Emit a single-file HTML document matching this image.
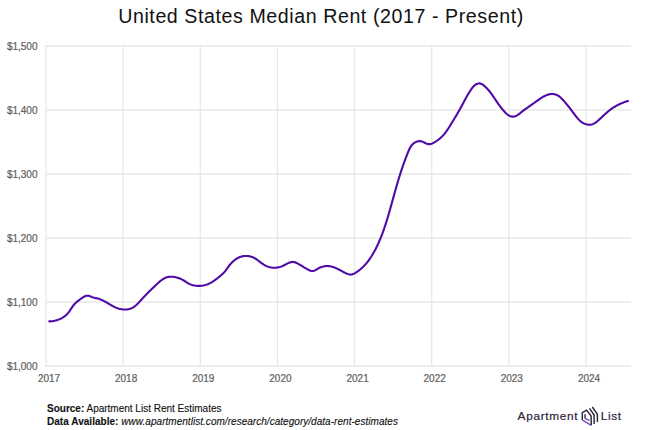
<!DOCTYPE html>
<html><head><meta charset="utf-8"><style>
html,body{margin:0;padding:0;background:#fff;width:650px;height:430px;overflow:hidden}
svg{position:absolute;left:0;top:0;display:block}
.t{font-family:"Liberation Sans",sans-serif}
</style></head><body>
<svg width="650" height="430" viewBox="0 0 650 430">
<rect width="650" height="430" fill="#fff"/>
<text class="t" x="321" y="22.7" text-anchor="middle" font-size="19.6" letter-spacing="0.58" fill="#111">United States Median Rent (2017 - Present)</text>
<g stroke="#e8e8e8" stroke-width="1.3" fill="none"><line x1="46.00" y1="45.3" x2="46.00" y2="366.7"/><line x1="123.14" y1="45.3" x2="123.14" y2="366.7"/><line x1="200.28" y1="45.3" x2="200.28" y2="366.7"/><line x1="277.42" y1="45.3" x2="277.42" y2="366.7"/><line x1="354.56" y1="45.3" x2="354.56" y2="366.7"/><line x1="431.70" y1="45.3" x2="431.70" y2="366.7"/><line x1="508.84" y1="45.3" x2="508.84" y2="366.7"/><line x1="585.98" y1="45.3" x2="585.98" y2="366.7"/><line x1="45.3" y1="46" x2="631" y2="46"/><line x1="45.3" y1="110" x2="631" y2="110"/><line x1="45.3" y1="174" x2="631" y2="174"/><line x1="45.3" y1="238" x2="631" y2="238"/><line x1="45.3" y1="302" x2="631" y2="302"/><line x1="45.3" y1="366" x2="631" y2="366"/></g>
<g class="t" font-size="10" fill="#5f5f5f" stroke="#5f5f5f" stroke-width="0.22"><text x="37.5" y="49.6" text-anchor="end">$1,500</text><text x="37.5" y="113.6" text-anchor="end">$1,400</text><text x="37.5" y="177.6" text-anchor="end">$1,300</text><text x="37.5" y="241.6" text-anchor="end">$1,200</text><text x="37.5" y="305.6" text-anchor="end">$1,100</text><text x="37.5" y="369.6" text-anchor="end">$1,000</text><text x="49.0" y="381.5" text-anchor="middle">2017</text><text x="126.1" y="381.5" text-anchor="middle">2018</text><text x="203.3" y="381.5" text-anchor="middle">2019</text><text x="280.4" y="381.5" text-anchor="middle">2020</text><text x="357.6" y="381.5" text-anchor="middle">2021</text><text x="434.7" y="381.5" text-anchor="middle">2022</text><text x="511.8" y="381.5" text-anchor="middle">2023</text><text x="589.0" y="381.5" text-anchor="middle">2024</text></g>
<path d="M49.31,321.36 L50.17,321.33 L51.03,321.28 L51.90,321.20 L52.76,321.09 L53.62,320.95 L54.48,320.78 L55.34,320.59 L56.18,320.37 L57.03,320.12 L57.86,319.85 L58.68,319.55 L59.50,319.22 L60.30,318.86 L61.08,318.48 L61.86,318.06 L62.61,317.63 L63.35,317.16 L64.07,316.67 L64.77,316.15 L65.45,315.60 L66.11,315.03 L66.75,314.43 L67.35,313.80 L67.94,313.15 L68.49,312.47 L69.03,311.77 L69.54,311.05 L70.04,310.32 L70.54,309.58 L71.02,308.84 L71.51,308.11 L72.00,307.37 L72.50,306.65 L73.00,305.94 L73.53,305.26 L74.07,304.59 L74.64,303.96 L75.23,303.35 L75.85,302.76 L76.48,302.19 L77.13,301.63 L77.80,301.09 L78.49,300.56 L79.19,300.03 L79.91,299.51 L80.65,298.98 L81.39,298.45 L82.15,297.92 L82.92,297.40 L83.70,296.92 L84.48,296.48 L85.27,296.12 L86.07,295.86 L86.87,295.71 L87.67,295.69 L88.48,295.81 L89.29,296.02 L90.10,296.30 L90.92,296.61 L91.75,296.90 L92.60,297.17 L93.45,297.43 L94.30,297.66 L95.16,297.89 L96.02,298.11 L96.88,298.34 L97.73,298.57 L98.57,298.82 L99.41,299.08 L100.23,299.37 L101.05,299.68 L101.85,300.02 L102.64,300.38 L103.42,300.75 L104.19,301.15 L104.96,301.56 L105.72,301.98 L106.48,302.41 L107.23,302.85 L107.99,303.29 L108.74,303.74 L109.49,304.18 L110.24,304.62 L110.99,305.06 L111.75,305.49 L112.51,305.92 L113.28,306.32 L114.06,306.72 L114.84,307.10 L115.63,307.46 L116.44,307.80 L117.25,308.11 L118.08,308.40 L118.92,308.66 L119.78,308.89 L120.65,309.09 L121.52,309.26 L122.40,309.39 L123.28,309.48 L124.17,309.54 L125.05,309.56 L125.93,309.54 L126.80,309.47 L127.66,309.37 L128.50,309.22 L129.34,309.02 L130.15,308.77 L130.95,308.48 L131.72,308.14 L132.47,307.76 L133.21,307.33 L133.93,306.86 L134.63,306.36 L135.31,305.83 L135.98,305.27 L136.64,304.68 L137.29,304.07 L137.92,303.45 L138.55,302.80 L139.17,302.15 L139.78,301.49 L140.39,300.82 L140.99,300.15 L141.59,299.48 L142.19,298.81 L142.79,298.15 L143.38,297.50 L143.98,296.86 L144.58,296.23 L145.18,295.60 L145.77,294.98 L146.37,294.37 L146.98,293.76 L147.58,293.15 L148.18,292.55 L148.79,291.95 L149.40,291.35 L150.01,290.76 L150.62,290.16 L151.24,289.56 L151.86,288.97 L152.48,288.37 L153.10,287.77 L153.73,287.16 L154.36,286.55 L155.00,285.94 L155.64,285.32 L156.29,284.70 L156.94,284.08 L157.59,283.46 L158.26,282.84 L158.93,282.24 L159.61,281.65 L160.30,281.07 L160.99,280.52 L161.70,279.99 L162.42,279.49 L163.16,279.02 L163.90,278.58 L164.66,278.18 L165.43,277.83 L166.22,277.52 L167.03,277.25 L167.85,277.04 L168.69,276.89 L169.54,276.78 L170.40,276.72 L171.27,276.71 L172.14,276.74 L173.02,276.82 L173.90,276.93 L174.78,277.07 L175.66,277.25 L176.53,277.46 L177.39,277.70 L178.23,277.96 L179.07,278.25 L179.89,278.56 L180.69,278.90 L181.49,279.26 L182.26,279.65 L183.02,280.07 L183.77,280.50 L184.50,280.97 L185.23,281.45 L185.95,281.93 L186.67,282.41 L187.41,282.86 L188.16,283.29 L188.93,283.69 L189.72,284.05 L190.53,284.38 L191.35,284.68 L192.18,284.95 L193.03,285.18 L193.89,285.38 L194.75,285.55 L195.62,285.68 L196.50,285.78 L197.38,285.85 L198.27,285.89 L199.15,285.90 L200.03,285.87 L200.92,285.82 L201.80,285.73 L202.67,285.61 L203.54,285.46 L204.39,285.28 L205.24,285.06 L206.08,284.82 L206.90,284.55 L207.72,284.24 L208.51,283.91 L209.30,283.54 L210.07,283.16 L210.83,282.75 L211.58,282.32 L212.32,281.86 L213.05,281.39 L213.78,280.91 L214.50,280.41 L215.21,279.89 L215.91,279.37 L216.62,278.83 L217.31,278.29 L218.01,277.75 L218.70,277.19 L219.39,276.64 L220.07,276.08 L220.75,275.52 L221.42,274.95 L222.08,274.36 L222.72,273.77 L223.34,273.16 L223.94,272.54 L224.52,271.91 L225.08,271.25 L225.62,270.58 L226.13,269.90 L226.64,269.21 L227.14,268.51 L227.64,267.81 L228.14,267.10 L228.65,266.40 L229.18,265.70 L229.72,265.01 L230.28,264.33 L230.86,263.66 L231.46,263.01 L232.08,262.37 L232.72,261.75 L233.38,261.15 L234.06,260.57 L234.76,260.02 L235.47,259.49 L236.20,258.99 L236.95,258.52 L237.71,258.09 L238.49,257.69 L239.29,257.33 L240.10,257.01 L240.93,256.73 L241.76,256.49 L242.61,256.29 L243.47,256.14 L244.33,256.02 L245.20,255.96 L246.07,255.93 L246.94,255.95 L247.80,256.01 L248.66,256.11 L249.52,256.26 L250.36,256.45 L251.19,256.68 L252.01,256.96 L252.81,257.28 L253.60,257.65 L254.37,258.05 L255.12,258.49 L255.87,258.95 L256.60,259.44 L257.32,259.95 L258.04,260.48 L258.76,261.01 L259.47,261.55 L260.18,262.09 L260.90,262.63 L261.61,263.16 L262.34,263.67 L263.07,264.16 L263.81,264.64 L264.56,265.08 L265.32,265.50 L266.09,265.88 L266.88,266.23 L267.68,266.54 L268.49,266.82 L269.31,267.07 L270.14,267.28 L270.98,267.45 L271.83,267.58 L272.70,267.67 L273.57,267.72 L274.45,267.74 L275.34,267.71 L276.22,267.64 L277.10,267.54 L277.98,267.39 L278.85,267.21 L279.71,267.00 L280.55,266.75 L281.37,266.47 L282.18,266.15 L282.96,265.80 L283.74,265.43 L284.51,265.05 L285.28,264.65 L286.06,264.24 L286.85,263.83 L287.66,263.42 L288.48,263.04 L289.31,262.68 L290.15,262.38 L291.00,262.14 L291.85,261.98 L292.69,261.92 L293.53,261.97 L294.37,262.13 L295.19,262.37 L296.01,262.70 L296.81,263.07 L297.60,263.48 L298.38,263.90 L299.15,264.33 L299.91,264.78 L300.66,265.23 L301.40,265.68 L302.14,266.14 L302.89,266.60 L303.63,267.06 L304.37,267.52 L305.12,267.97 L305.88,268.41 L306.65,268.85 L307.43,269.27 L308.22,269.69 L309.03,270.08 L309.85,270.45 L310.67,270.75 L311.50,270.96 L312.32,271.06 L313.13,271.01 L313.92,270.82 L314.70,270.52 L315.47,270.13 L316.23,269.70 L316.99,269.25 L317.75,268.79 L318.51,268.34 L319.28,267.92 L320.08,267.54 L320.89,267.19 L321.73,266.90 L322.58,266.65 L323.44,266.44 L324.31,266.28 L325.18,266.16 L326.06,266.08 L326.94,266.05 L327.82,266.05 L328.70,266.11 L329.57,266.20 L330.42,266.33 L331.27,266.51 L332.11,266.72 L332.94,266.96 L333.76,267.24 L334.58,267.54 L335.38,267.86 L336.18,268.21 L336.98,268.58 L337.76,268.96 L338.54,269.35 L339.31,269.76 L340.08,270.17 L340.85,270.58 L341.61,271.00 L342.38,271.42 L343.15,271.83 L343.93,272.24 L344.72,272.65 L345.53,273.04 L346.34,273.42 L347.18,273.77 L348.02,274.08 L348.87,274.33 L349.71,274.50 L350.56,274.58 L351.39,274.54 L352.22,274.37 L353.03,274.11 L353.83,273.76 L354.62,273.34 L355.39,272.89 L356.15,272.41 L356.89,271.91 L357.62,271.41 L358.34,270.89 L359.05,270.35 L359.74,269.81 L360.42,269.25 L361.08,268.68 L361.74,268.10 L362.38,267.51 L363.01,266.91 L363.63,266.29 L364.23,265.67 L364.83,265.04 L365.41,264.39 L365.99,263.74 L366.55,263.08 L367.10,262.41 L367.64,261.73 L368.18,261.04 L368.70,260.35 L369.21,259.64 L369.71,258.93 L370.21,258.22 L370.70,257.49 L371.17,256.76 L371.64,256.03 L372.10,255.28 L372.56,254.54 L373.00,253.78 L373.44,253.03 L373.87,252.27 L374.29,251.50 L374.71,250.73 L375.12,249.96 L375.52,249.18 L375.92,248.40 L376.31,247.62 L376.70,246.83 L377.08,246.05 L377.46,245.26 L377.83,244.46 L378.19,243.67 L378.55,242.88 L378.90,242.08 L379.25,241.28 L379.60,240.48 L379.94,239.68 L380.27,238.87 L380.61,238.06 L380.93,237.26 L381.26,236.45 L381.57,235.63 L381.89,234.82 L382.20,234.01 L382.50,233.19 L382.81,232.37 L383.11,231.55 L383.40,230.73 L383.69,229.91 L383.98,229.09 L384.27,228.26 L384.55,227.44 L384.83,226.61 L385.10,225.78 L385.38,224.95 L385.65,224.12 L385.91,223.29 L386.18,222.46 L386.44,221.63 L386.70,220.79 L386.96,219.96 L387.22,219.12 L387.47,218.29 L387.72,217.45 L387.97,216.61 L388.22,215.78 L388.46,214.94 L388.71,214.10 L388.95,213.26 L389.19,212.42 L389.44,211.58 L389.67,210.74 L389.91,209.89 L390.15,209.05 L390.39,208.21 L390.62,207.37 L390.86,206.52 L391.09,205.68 L391.32,204.84 L391.56,204.00 L391.79,203.15 L392.02,202.31 L392.26,201.47 L392.49,200.63 L392.72,199.78 L392.96,198.94 L393.19,198.10 L393.42,197.26 L393.66,196.41 L393.89,195.57 L394.13,194.73 L394.36,193.89 L394.60,193.05 L394.83,192.21 L395.07,191.37 L395.31,190.53 L395.55,189.69 L395.78,188.85 L396.02,188.01 L396.27,187.17 L396.51,186.33 L396.75,185.49 L396.99,184.65 L397.24,183.82 L397.48,182.98 L397.73,182.14 L397.98,181.31 L398.23,180.47 L398.48,179.64 L398.74,178.80 L398.99,177.97 L399.25,177.13 L399.50,176.30 L399.76,175.47 L400.02,174.64 L400.29,173.80 L400.55,172.97 L400.82,172.14 L401.09,171.31 L401.36,170.48 L401.63,169.66 L401.91,168.83 L402.18,168.00 L402.46,167.17 L402.74,166.35 L403.03,165.52 L403.32,164.70 L403.60,163.88 L403.90,163.05 L404.19,162.23 L404.49,161.41 L404.79,160.59 L405.09,159.77 L405.39,158.95 L405.70,158.13 L406.01,157.32 L406.33,156.50 L406.64,155.69 L406.96,154.87 L407.29,154.06 L407.61,153.25 L407.94,152.44 L408.28,151.63 L408.62,150.82 L408.96,150.01 L409.32,149.22 L409.71,148.44 L410.11,147.68 L410.54,146.93 L411.01,146.21 L411.52,145.52 L412.06,144.86 L412.66,144.23 L413.31,143.65 L414.01,143.10 L414.78,142.60 L415.60,142.16 L416.45,141.78 L417.34,141.48 L418.24,141.27 L419.14,141.15 L420.04,141.15 L420.92,141.26 L421.78,141.49 L422.63,141.80 L423.45,142.16 L424.27,142.56 L425.07,142.96 L425.87,143.34 L426.67,143.68 L427.47,143.95 L428.27,144.11 L429.07,144.16 L429.88,144.11 L430.69,143.96 L431.50,143.72 L432.31,143.41 L433.10,143.05 L433.89,142.64 L434.67,142.19 L435.44,141.73 L436.19,141.24 L436.92,140.75 L437.64,140.23 L438.35,139.71 L439.04,139.17 L439.72,138.61 L440.38,138.04 L441.02,137.46 L441.65,136.86 L442.27,136.25 L442.87,135.63 L443.45,134.99 L444.02,134.34 L444.57,133.67 L445.12,133.00 L445.65,132.31 L446.16,131.61 L446.67,130.91 L447.17,130.19 L447.66,129.47 L448.14,128.74 L448.62,128.01 L449.09,127.27 L449.56,126.53 L450.02,125.79 L450.48,125.04 L450.94,124.30 L451.40,123.55 L451.86,122.80 L452.32,122.05 L452.78,121.31 L453.24,120.56 L453.70,119.81 L454.16,119.07 L454.61,118.32 L455.06,117.57 L455.52,116.82 L455.97,116.08 L456.41,115.33 L456.86,114.57 L457.30,113.82 L457.74,113.07 L458.18,112.32 L458.61,111.56 L459.04,110.80 L459.46,110.04 L459.88,109.28 L460.30,108.52 L460.72,107.76 L461.13,107.00 L461.54,106.23 L461.95,105.46 L462.36,104.70 L462.76,103.93 L463.17,103.16 L463.58,102.40 L463.99,101.63 L464.40,100.86 L464.81,100.10 L465.23,99.33 L465.64,98.56 L466.07,97.80 L466.49,97.04 L466.92,96.27 L467.36,95.51 L467.80,94.75 L468.24,94.00 L468.69,93.24 L469.15,92.49 L469.62,91.74 L470.10,90.99 L470.58,90.24 L471.07,89.50 L471.58,88.76 L472.11,88.05 L472.65,87.35 L473.23,86.69 L473.84,86.06 L474.49,85.47 L475.19,84.93 L475.93,84.45 L476.72,84.03 L477.54,83.70 L478.37,83.48 L479.21,83.40 L480.03,83.46 L480.83,83.66 L481.61,83.99 L482.36,84.42 L483.10,84.92 L483.81,85.48 L484.51,86.08 L485.18,86.68 L485.84,87.30 L486.47,87.93 L487.09,88.57 L487.69,89.22 L488.28,89.88 L488.85,90.55 L489.41,91.22 L489.95,91.90 L490.49,92.59 L491.01,93.29 L491.53,93.99 L492.04,94.69 L492.54,95.40 L493.03,96.12 L493.52,96.83 L494.01,97.55 L494.49,98.27 L494.98,99.00 L495.46,99.72 L495.94,100.44 L496.42,101.16 L496.91,101.89 L497.40,102.61 L497.90,103.32 L498.40,104.04 L498.90,104.75 L499.42,105.46 L499.94,106.16 L500.46,106.86 L501.00,107.56 L501.54,108.24 L502.09,108.92 L502.65,109.60 L503.21,110.26 L503.79,110.92 L504.38,111.57 L504.98,112.21 L505.59,112.83 L506.24,113.43 L506.92,114.02 L507.63,114.57 L508.38,115.09 L509.15,115.56 L509.95,115.97 L510.76,116.29 L511.57,116.53 L512.38,116.65 L513.18,116.67 L513.97,116.58 L514.75,116.39 L515.52,116.12 L516.29,115.78 L517.05,115.36 L517.80,114.90 L518.54,114.39 L519.28,113.84 L520.02,113.27 L520.75,112.68 L521.48,112.09 L522.20,111.50 L522.92,110.92 L523.63,110.36 L524.35,109.82 L525.06,109.29 L525.76,108.78 L526.47,108.28 L527.18,107.79 L527.88,107.30 L528.58,106.83 L529.28,106.35 L529.98,105.88 L530.68,105.41 L531.39,104.93 L532.09,104.46 L532.79,103.97 L533.49,103.48 L534.19,102.98 L534.90,102.48 L535.60,101.96 L536.31,101.44 L537.02,100.91 L537.74,100.39 L538.46,99.87 L539.18,99.35 L539.91,98.84 L540.65,98.35 L541.39,97.86 L542.14,97.39 L542.90,96.94 L543.67,96.50 L544.44,96.09 L545.23,95.71 L546.03,95.35 L546.83,95.02 L547.65,94.73 L548.48,94.48 L549.32,94.27 L550.17,94.11 L551.03,94.01 L551.90,93.98 L552.78,94.00 L553.66,94.10 L554.53,94.25 L555.39,94.47 L556.23,94.75 L557.04,95.09 L557.82,95.49 L558.56,95.95 L559.28,96.45 L559.97,96.99 L560.64,97.57 L561.28,98.18 L561.91,98.81 L562.52,99.45 L563.12,100.10 L563.72,100.75 L564.30,101.41 L564.88,102.07 L565.44,102.73 L566.01,103.39 L566.56,104.06 L567.11,104.73 L567.66,105.40 L568.19,106.08 L568.73,106.76 L569.26,107.44 L569.79,108.12 L570.32,108.81 L570.84,109.50 L571.37,110.19 L571.89,110.89 L572.41,111.59 L572.94,112.29 L573.46,112.99 L573.99,113.70 L574.52,114.41 L575.05,115.12 L575.59,115.83 L576.13,116.53 L576.69,117.22 L577.25,117.91 L577.83,118.57 L578.42,119.22 L579.03,119.85 L579.66,120.45 L580.30,121.03 L580.97,121.58 L581.66,122.09 L582.38,122.57 L583.12,123.01 L583.89,123.41 L584.69,123.77 L585.53,124.07 L586.39,124.33 L587.28,124.53 L588.17,124.66 L589.06,124.72 L589.94,124.71 L590.80,124.61 L591.63,124.44 L592.44,124.19 L593.23,123.87 L594.00,123.50 L594.74,123.08 L595.48,122.61 L596.19,122.10 L596.89,121.56 L597.58,120.99 L598.26,120.41 L598.93,119.81 L599.60,119.21 L600.25,118.61 L600.90,118.01 L601.55,117.40 L602.19,116.80 L602.83,116.20 L603.47,115.61 L604.11,115.01 L604.75,114.42 L605.39,113.84 L606.03,113.26 L606.68,112.68 L607.33,112.12 L607.99,111.56 L608.66,111.01 L609.33,110.47 L610.02,109.94 L610.71,109.42 L611.42,108.91 L612.13,108.41 L612.85,107.92 L613.59,107.45 L614.33,106.98 L615.08,106.53 L615.84,106.09 L616.60,105.66 L617.38,105.25 L618.16,104.84 L618.94,104.45 L619.73,104.07 L620.53,103.71 L621.34,103.36 L622.14,103.02 L622.96,102.69 L623.77,102.38 L624.59,102.08 L625.42,101.79 L626.24,101.52 L627.07,101.26 L627.90,101.01" fill="none" stroke="#4f0aa8" stroke-width="2.1" stroke-linecap="round" stroke-linejoin="round"/>
<g class="t" font-size="10" fill="#111" stroke="#111" stroke-width="0.12">
<text x="47" y="411.5"><tspan font-weight="bold">Source:</tspan> Apartment List Rent Estimates</text>
<text x="47" y="425.1" letter-spacing="0.035"><tspan font-weight="bold">Data Available:</tspan> <tspan font-style="italic">www.apartmentlist.com/research/category/data-rent-estimates</tspan></text>
</g>
<g class="t" font-size="11.8" fill="#2a2438" stroke="#2a2438" stroke-width="0.2">
<text x="517.6" y="420.3" letter-spacing="0.7">Apartment</text>
<text x="600.8" y="420.3" letter-spacing="0.65">List</text>
</g>
<g fill="none" stroke="#2a2438" stroke-width="1.45" stroke-linejoin="miter" stroke-linecap="butt">
<path d="M582.3,420 L582.3,412.7 L586.6,410.1 L591.1,416 L591.3,425.3"/>
<path d="M582.3,420 L591.3,425.3" stroke="#6a48b0"/>
<path d="M585.1,414.2 L585.1,418.5"/>
<path d="M585.1,418.5 L589.5,420.5" stroke="#7a5ac8"/>
<path d="M589.5,408.3 L594.1,415 L594.1,423.9"/>
<path d="M592.3,407 L597.4,414.2 L597.4,421.9"/>
</g>
</svg>
</body></html>
